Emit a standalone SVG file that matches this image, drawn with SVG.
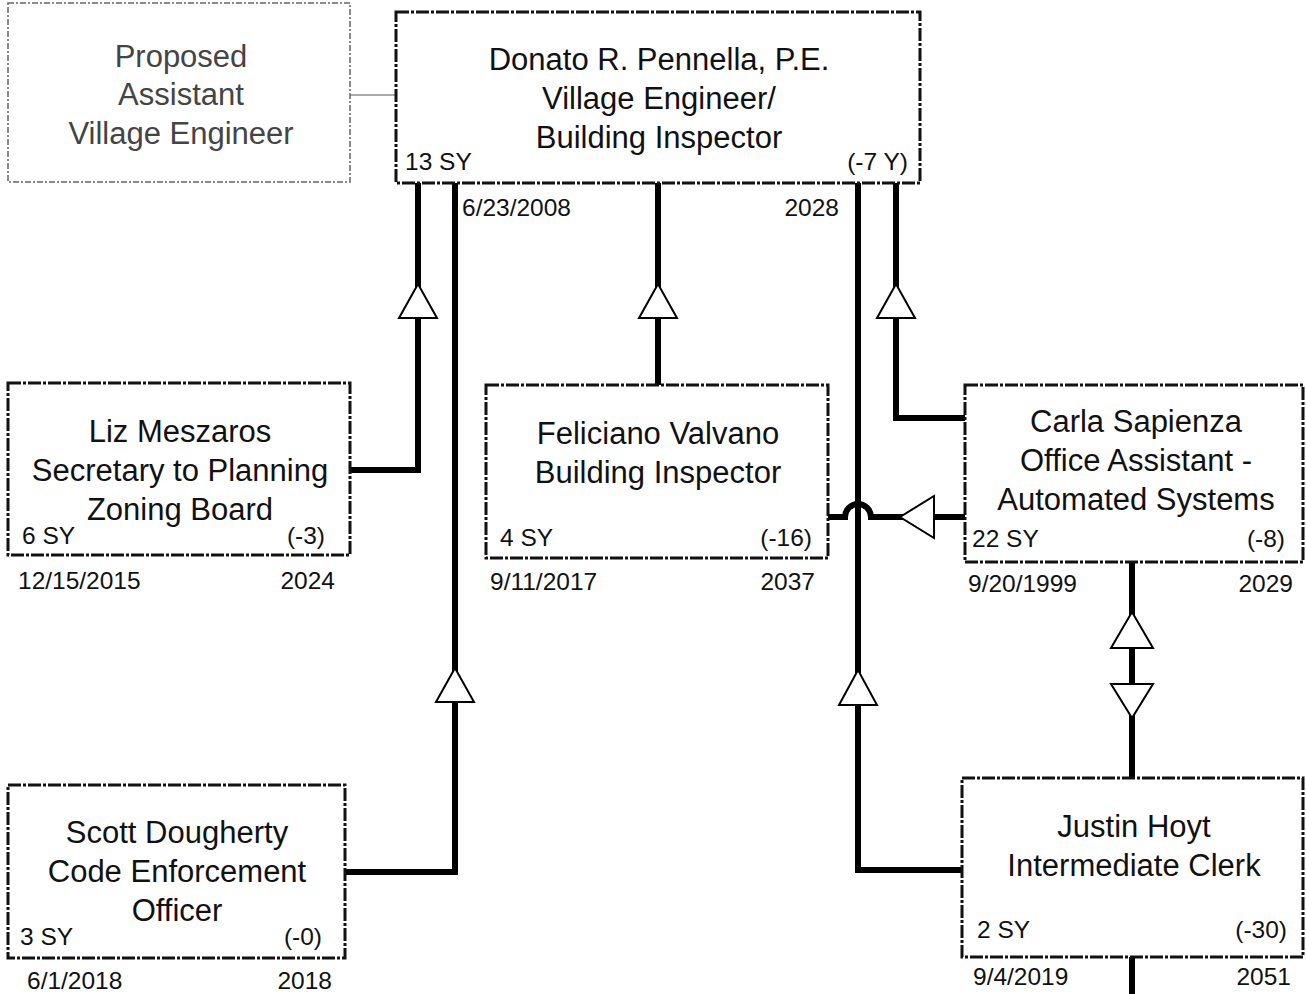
<svg xmlns="http://www.w3.org/2000/svg" width="1306" height="994" viewBox="0 0 1306 994">
<style>
.box{fill:#fff;stroke:#111;stroke-width:3;stroke-dasharray:13 2 3 2}
.pbox{fill:#fff;stroke:#666;stroke-width:1.5;stroke-dasharray:6 2 2 2}
.t{font-family:"Liberation Sans",Arial,sans-serif;font-size:31px;fill:#111;text-anchor:middle}
.pt{font-family:"Liberation Sans",Arial,sans-serif;font-size:31px;fill:#444;text-anchor:middle}
.s{font-family:"Liberation Sans",Arial,sans-serif;font-size:24.5px;fill:#111}
.r{text-anchor:end}
.ln{fill:none;stroke:#000;stroke-width:6}
.thin{fill:none;stroke:#555;stroke-width:1.2}
.ar{fill:#fff;stroke:#000;stroke-width:2}
</style>
<rect width="1306" height="994" fill="#fff"/>
<g id="connectors">
<line class="thin" x1="350" y1="95" x2="396" y2="95"/>
<polyline class="ln" points="350,470 418,470 418,183"/>
<polyline class="ln" points="345,872 455,872 455,183"/>
<polyline class="ln" points="658,385 658,183"/>
<polyline class="ln" points="962,870 858,870 858,183"/>
<polyline class="ln" points="965,418 896,418 896,183"/>
<path class="ln" d="M828,517 H845 A13,13 0 0 1 871,517 H965"/>
<line class="ln" x1="1132" y1="562" x2="1132" y2="778"/>
<line class="ln" x1="1132" y1="957" x2="1132" y2="994"/>
<polygon class="ar" points="418,284 399,318 437,318"/>
<polygon class="ar" points="658,284 639,318 677,318"/>
<polygon class="ar" points="896,284 877,318 915,318"/>
<polygon class="ar" points="455,668 436,702 474,702"/>
<polygon class="ar" points="858,670 839,705 877,705"/>
<polygon class="ar" points="900,517 934,496 934,538"/>
<polygon class="ar" points="1132,612 1111,648 1153,648"/>
<polygon class="ar" points="1132,718 1111,684 1153,684"/>
</g>
<g id="proposed">
<rect class="pbox" x="8" y="3" width="342" height="179"/>
<text class="pt" x="181" y="67">Proposed</text>
<text class="pt" x="181" y="105">Assistant</text>
<text class="pt" x="181" y="144">Village Engineer</text>
</g>
<g id="donato">
<rect class="box" x="396" y="12" width="524" height="171"/>
<text class="t" x="659" y="70">Donato R. Pennella, P.E.</text>
<text class="t" x="659" y="109">Village Engineer/</text>
<text class="t" x="659" y="148">Building Inspector</text>
<text class="s" x="405" y="170">13 SY</text>
<text class="s r" x="908" y="170">(-7 Y)</text>
<text class="s" x="462" y="216">6/23/2008</text>
<text class="s r" x="839" y="216">2028</text>
</g>
<g id="liz">
<rect class="box" x="8" y="383" width="342" height="172"/>
<text class="t" x="180" y="442">Liz Meszaros</text>
<text class="t" x="180" y="481">Secretary to Planning</text>
<text class="t" x="180" y="520">Zoning Board</text>
<text class="s" x="22" y="544">6 SY</text>
<text class="s r" x="325" y="544">(-3)</text>
<text class="s" x="18" y="589">12/15/2015</text>
<text class="s r" x="335" y="589">2024</text>
</g>
<g id="feliciano">
<rect class="box" x="486" y="385" width="342" height="173"/>
<text class="t" x="658" y="444">Feliciano Valvano</text>
<text class="t" x="658" y="483">Building Inspector</text>
<text class="s" x="500" y="546">4 SY</text>
<text class="s r" x="812" y="546">(-16)</text>
<text class="s" x="490" y="590">9/11/2017</text>
<text class="s r" x="815" y="590">2037</text>
</g>
<g id="carla">
<rect class="box" x="965" y="385" width="338" height="177"/>
<text class="t" x="1136" y="432">Carla Sapienza</text>
<text class="t" x="1136" y="471">Office Assistant -</text>
<text class="t" x="1136" y="510">Automated Systems</text>
<text class="s" x="972" y="547">22 SY</text>
<text class="s r" x="1285" y="547">(-8)</text>
<text class="s" x="968" y="592">9/20/1999</text>
<text class="s r" x="1293" y="592">2029</text>
</g>
<g id="scott">
<rect class="box" x="8" y="785" width="337" height="173"/>
<text class="t" x="177" y="843">Scott Dougherty</text>
<text class="t" x="177" y="882">Code Enforcement</text>
<text class="t" x="177" y="921">Officer</text>
<text class="s" x="20" y="945">3 SY</text>
<text class="s r" x="322" y="945">(-0)</text>
<text class="s" x="27" y="989">6/1/2018</text>
<text class="s r" x="332" y="989">2018</text>
</g>
<g id="justin">
<rect class="box" x="962" y="778" width="341" height="179"/>
<text class="t" x="1134" y="837">Justin Hoyt</text>
<text class="t" x="1134" y="876">Intermediate Clerk</text>
<text class="s" x="977" y="938">2 SY</text>
<text class="s r" x="1287" y="938">(-30)</text>
<text class="s" x="973" y="985">9/4/2019</text>
<text class="s r" x="1291" y="985">2051</text>
</g>
</svg>
